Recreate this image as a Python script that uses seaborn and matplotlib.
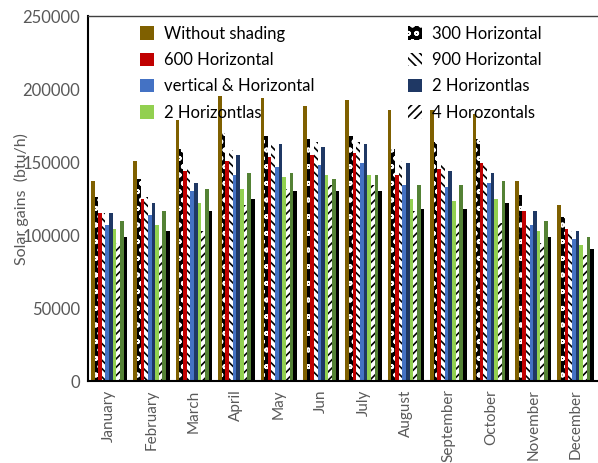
import numpy as np
import pandas as pd
import matplotlib
matplotlib.use("Agg")
import matplotlib.pyplot as plt
import seaborn as sns
from matplotlib.patches import Patch

months = ["January", "February", "March", "April", "May", "Jun", "July",
          "August", "September", "October", "November", "December"]

series_names = ["Without shading", "300 Horizontal", "600 Horizontal", "900 Horizontal",
                "vertical & Horizontal", "2 Horizontlas ", "2 Horizontlas", "4 Horozontals",
                "Series 9", "Series 10"]

without_shading = [137400, 151100, 178600, 195000, 193700, 188200, 192300, 185400, 185400, 182700, 137400, 120900]
h300 = [126400, 138700, 159300, 170300, 167600, 166200, 167600, 159300, 163500, 166200, 127700, 112600]
h600 = [115400, 125000, 144200, 151100, 153800, 155200, 156600, 141500, 145600, 149700, 116800, 104400]
h900 = [115400, 126400, 147000, 158000, 162100, 163500, 163500, 151100, 148300, 148300, 107100, 103000]
vert_h = [107100, 114000, 130500, 141500, 147000, 148300, 149700, 134600, 133200, 136000, 107100, 97500]
two_h_navy = [115400, 122300, 136000, 155200, 162100, 160700, 162100, 149700, 144200, 142900, 116800, 103000]
two_h_green = [104400, 107100, 122300, 131900, 140100, 141500, 141500, 125000, 123600, 125000, 103000, 93400]
four_h = [94800, 94300, 103000, 120900, 131900, 134600, 134600, 116800, 108500, 108500, 94300, 86500]
series9 = [109900, 116800, 131900, 142900, 142900, 138700, 141500, 134600, 134600, 137400, 109900, 98900]
series10 = [98900, 103000, 116800, 125000, 130500, 130500, 130500, 118100, 118100, 122300, 98900, 90700]

all_values = [without_shading, h300, h600, h900, vert_h, two_h_navy, two_h_green, four_h, series9, series10]

rows = []
for name, vals in zip(series_names, all_values):
    for m, v in zip(months, vals):
        rows.append({"Month": m, "Series": name, "Value": v})
df = pd.DataFrame(rows)

facecolors = ["#7F6000", "#000000", "#C00000", "#FFFFFF", "#4472C4",
              "#1F3864", "#92D050", "#FFFFFF", "#548235", "#000000"]
hatches = [None, "oo", None, "\\\\\\\\", None, None, None, "////", None, None]
hatchcolors = [None, "#FFFFFF", None, "#000000", None, None, None, "#000000", None, None]

sns.set_style("white")
plt.rcParams["font.family"] = ["Lato", "DejaVu Sans"]
plt.rcParams["hatch.linewidth"] = 1.2

fig = plt.figure(figsize=(5.98, 4.63), dpi=100)
ax = fig.add_axes([0.147, 0.177, 0.851, 0.788])

sns.barplot(data=df, x="Month", y="Value", hue="Series", order=months,
            hue_order=series_names, palette=facecolors, width=0.86,
            saturation=1, ax=ax, legend=False, errorbar=None)

for i, cont in enumerate(ax.containers):
    for bar in cont:
        bar.set_facecolor(facecolors[i])
        bar.set_linewidth(0)
        if hatches[i]:
            bar.set_hatch(hatches[i])
            bar.set_edgecolor(hatchcolors[i])

ax.set_ylim(0, 250000)
ax.set_xlim(-0.5, 11.5)
ax.set_yticks(np.arange(0, 250001, 50000))
ax.set_yticklabels([str(v) for v in range(0, 250001, 50000)], color="#595959", fontsize=12)
ax.set_xticks(range(12))
ax.set_xticklabels(months, rotation=90, color="#595959", fontsize=11)
ax.tick_params(axis="x", length=0, pad=6)
ax.tick_params(axis="y", length=5, width=1, color="black", direction="out", pad=0.5)
ax.set_xlabel("")
ax.set_ylabel("Solar gains  (btu/h)", color="#595959", fontsize=11.5, labelpad=-5)

for s in ["left", "bottom"]:
    ax.spines[s].set_color("black")
    ax.spines[s].set_linewidth(1.5)
ax.spines["top"].set_color("#404040")
ax.spines["top"].set_linewidth(1)
ax.spines["right"].set_visible(False)

order = [0, 2, 4, 6, 1, 3, 5, 7]
handles = []
labels = []
for i in order:
    p = Patch(facecolor=facecolors[i], linewidth=0,
              hatch=hatches[i], edgecolor=hatchcolors[i] if hatches[i] else facecolors[i])
    handles.append(p)
    labels.append(series_names[i].strip())
leg = ax.legend(handles, labels, ncol=2, frameon=False, loc="upper left",
                bbox_to_anchor=(0.08, 1.006), fontsize=12, handlelength=0.85,
                handleheight=0.85, handletextpad=0.6, columnspacing=5.6,
                labelspacing=0.62, borderaxespad=0.3)
for t in leg.get_texts():
    t.set_color("black")

fig.savefig("out.png", dpi=100)
